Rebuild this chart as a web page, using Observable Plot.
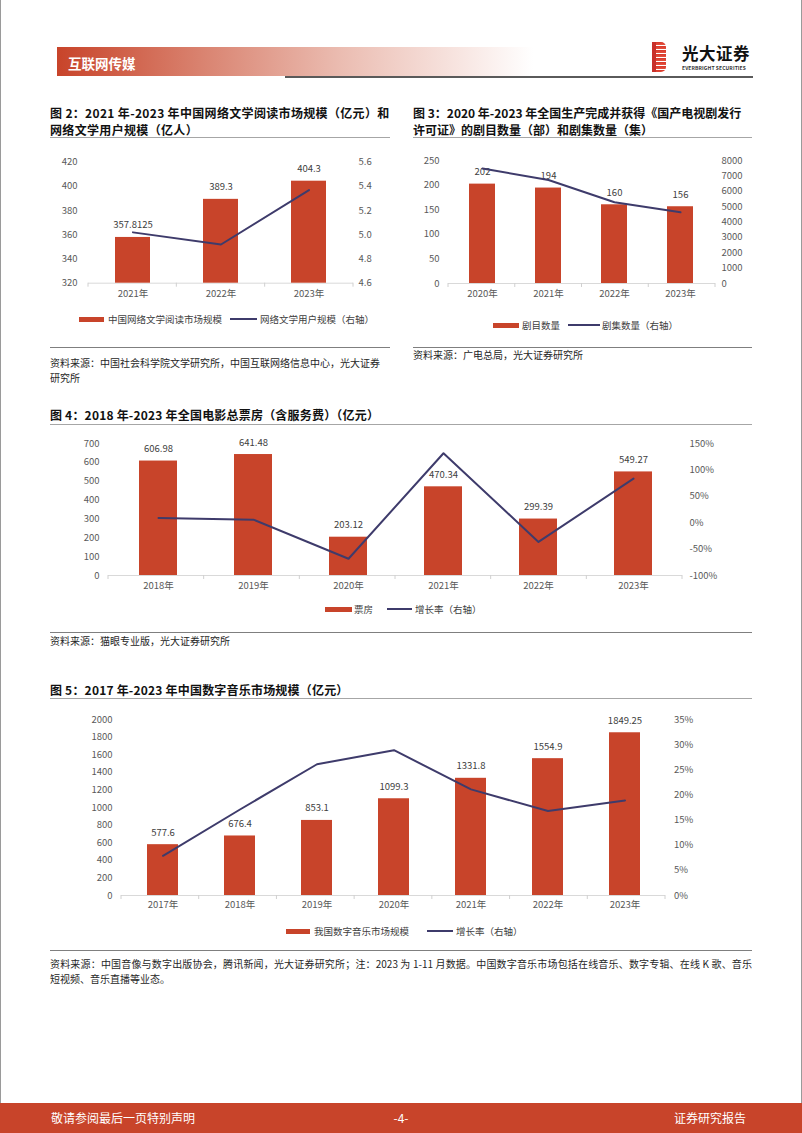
<!DOCTYPE html>
<html><head><meta charset="utf-8">
<script src="https://cdn.jsdelivr.net/npm/d3@7"></script>
<script src="https://cdn.jsdelivr.net/npm/@observablehq/plot@0.6"></script>
<style>
html,body{margin:0;padding:0;background:#fff;}
#page{position:relative;width:802px;height:1133px;overflow:hidden;font-family:"Noto Sans CJK SC","Noto Sans",sans-serif;background:#fff;}
.abs{position:absolute;}
.title{position:absolute;font-size:12px;font-weight:700;color:#111;line-height:17px;white-space:nowrap;}
.hr{position:absolute;height:0;border-top:1.5px solid #a6a6a6;}
.hr2{position:absolute;height:0;border-top:1px solid #7f7f7f;}
.src{position:absolute;font-size:10px;color:#262626;line-height:15px;white-space:nowrap;}
.leg{position:absolute;font-size:9.5px;color:#404040;white-space:nowrap;line-height:12px;height:12px;}
.chart{position:absolute;}
</style>
</head><body>
<div id="page"></div>
<script>
// ---------------- DATA ----------------
// 图2
const fig2Years = ["2021年", "2022年", "2023年"];
const fig2Market = [357.8125, 389.3, 404.3];          // 亿元
const fig2Users = [5.02, 4.92, 5.37];                  // 亿人 (右轴)
const fig2LeftTicks = [320, 340, 360, 380, 400, 420];
const fig2RightTicks = [4.6, 4.8, 5.0, 5.2, 5.4, 5.6];
const fig2Series = ["中国网络文学阅读市场规模", "网络文学用户规模（右轴）"];

// 图3
const fig3Years = ["2020年", "2021年", "2022年", "2023年"];
const fig3Dramas = [202, 194, 160, 156];               // 部
const fig3Episodes = [7476, 6736, 5283, 4632];          // 集 (右轴)
const fig3LeftTicks = [0, 50, 100, 150, 200, 250];
const fig3RightTicks = [0, 1000, 2000, 3000, 4000, 5000, 6000, 7000, 8000];
const fig3Series = ["剧目数量", "剧集数量（右轴）"];

// 图4
const fig4Years = ["2018年", "2019年", "2020年", "2021年", "2022年", "2023年"];
const fig4BoxOffice = [606.98, 641.48, 203.12, 470.34, 299.39, 549.27];
const fig4Growth = [9.1, 5.7, -68.3, 131.6, -36.4, 83.5]; // %
const fig4LeftTicks = [0, 100, 200, 300, 400, 500, 600, 700];
const fig4RightTicks = [-100, -50, 0, 50, 100, 150];
const fig4Series = ["票房", "增长率（右轴）"];

// 图5
const fig5Years = ["2017年", "2018年", "2019年", "2020年", "2021年", "2022年", "2023年"];
const fig5Market = [577.6, 676.4, 853.1, 1099.3, 1331.8, 1554.9, 1849.25];
const fig5Growth = [7.9, 17.1, 26.1, 28.9, 21.1, 16.8, 18.9]; // %
const fig5LeftTicks = [0, 200, 400, 600, 800, 1000, 1200, 1400, 1600, 1800, 2000];
const fig5RightTicks = [0, 5, 10, 15, 20, 25, 30, 35];
const fig5Series = ["我国数字音乐市场规模", "增长率（右轴）"];

// ---------------- STYLE ----------------
const RED = "#C8442A";
const NAVY = "#3E3B6B";
const FONT = "'Noto Sans CJK SC','Noto Sans',sans-serif";
const page = document.getElementById("page");

function el(tag, cls, css, html) {
  const e = document.createElement(tag);
  if (cls) e.className = cls;
  Object.assign(e.style, css || {});
  if (html != null) e.innerHTML = html;
  page.appendChild(e);
  return e;
}

// ---------------- HEADER / FOOTER ----------------
el("div", "abs", {left: "0px", top: "0px", width: "1px", height: "1103px", background: "#9a9a9a"});
el("div", "abs", {left: "801px", top: "0px", width: "1px", height: "1103px", background: "#9a9a9a"});
el("div", "abs", {left: "57px", top: "47px", width: "476px", height: "29px",
  background: "linear-gradient(to right, #C8442A 0%, #d9826f 30%, #ebbdb2 60%, #f8e6e2 85%, #ffffff 100%)"});
el("div", "abs", {left: "68px", top: "53px", fontSize: "13.5px", fontWeight: "700", color: "#fff", lineHeight: "20px"}, "互联网传媒");
el("div", "abs", {left: "285px", top: "76px", width: "468px", height: "2px", background: "#5a5a5a"});
// logo
el("div", "abs", {left: "652px", top: "42px", width: "14px", height: "30px",
  background: "repeating-linear-gradient(to bottom, #D7372A 0px, #E5533F 3px, #ffffff 3px, #ffffff 4px)",
  borderRadius: "0 5px 5px 0"});
el("div", "abs", {left: "652px", top: "42px", width: "4px", height: "30px", background: "#C8302A"});
el("div", "abs", {left: "682px", top: "43px", fontSize: "16.5px", fontWeight: "700", color: "#111", lineHeight: "20px", letterSpacing: "0.5px"}, "光大证券");
el("div", "abs", {left: "682px", top: "64px", fontSize: "5px", fontWeight: "700", color: "#333", lineHeight: "7px", letterSpacing: "0.1px"}, "EVERBRIGHT SECURITIES");

el("div", "abs", {left: "0px", top: "1103px", width: "802px", height: "30px", background: RED});
el("div", "abs", {left: "51px", top: "1109px", fontSize: "12px", color: "#fff", lineHeight: "18px"}, "敬请参阅最后一页特别声明");
el("div", "abs", {left: "381px", top: "1109px", width: "40px", textAlign: "center", fontSize: "12px", color: "#fff", lineHeight: "18px"}, "-4-");
el("div", "abs", {left: "674px", top: "1109px", fontSize: "12px", color: "#fff", lineHeight: "18px"}, "证券研究报告");

// ---------------- CHART HELPER ----------------
const hasAxisMarks = typeof Plot.axisY === "function";

function boundaryTicks(n) {
  return (index, scales, values, dim) => {
    const g = d3.create("svg:g");
    const W = dim.width - dim.marginLeft - dim.marginRight;
    const y0 = dim.height - dim.marginBottom;
    for (let i = 0; i <= n; i++) {
      const x = dim.marginLeft + i * W / n;
      g.append("line").attr("x1", x).attr("x2", x).attr("y1", y0).attr("y2", y0 + 4)
        .attr("stroke", "#d0d0d0").attr("stroke-width", 1);
    }
    return g.node();
  };
}

function dualChart(cfg) {
  const {cats, bars, line, yDomain, yTicks, y2Domain, y2Ticks, y2Format, yFormat,
         width, height, m, pad} = cfg;
  const k = (yDomain[1] - yDomain[0]) / (y2Domain[1] - y2Domain[0]);
  const toLeft = v => yDomain[0] + (v - y2Domain[0]) * k;
  const fromLeft = v => y2Domain[0] + (v - yDomain[0]) / k;
  const data = cats.map((c, i) => ({cat: c, bar: bars[i], lineY: toLeft(line[i])}));
  const marks = [
    Plot.ruleY([yDomain[0]], {stroke: "#d9d9d9", strokeWidth: 1}),
    boundaryTicks(cats.length),
    Plot.barY(data, {x: "cat", y1: () => yDomain[0], y2: "bar", fill: RED}),
    Plot.text(data, {x: "cat", y: "bar", text: d => String(d.bar), dy: -12, fill: "#404040"}),
    Plot.line(data, {x: "cat", y: "lineY", stroke: NAVY, strokeWidth: 2})
  ];
  if (hasAxisMarks) {
    marks.push(
      Plot.axisY(yTicks, {anchor: "left", tickSize: 0, tickPadding: pad.l, label: null, tickFormat: yFormat || (d => String(d))}),
      Plot.axisY(y2Ticks.map(toLeft), {anchor: "right", tickSize: 0, tickPadding: pad.r, label: null,
        tickFormat: d => y2Format(fromLeft(d))}),
      Plot.axisX(cats, {anchor: "bottom", tickSize: 0, tickPadding: pad.x, label: null})
    );
  } else {
    marks.push(
      Plot.text(yTicks, {y: d => d, frameAnchor: "left", textAnchor: "end", dx: -pad.l, text: d => String(d), fill: "#595959"}),
      Plot.text(y2Ticks.map(toLeft), {y: d => d, frameAnchor: "right", textAnchor: "start", dx: pad.r,
        text: d => y2Format(fromLeft(d)), fill: "#595959"}),
      Plot.text(cats, {x: d => d, frameAnchor: "bottom", lineAnchor: "top", dy: pad.x, fill: "#595959"})
    );
  }
  return Plot.plot({
    width, height,
    marginLeft: m[3], marginRight: m[1], marginTop: m[0], marginBottom: m[2],
    x: {domain: cats, paddingInner: 0.6, paddingOuter: 0.3, ...(hasAxisMarks ? {} : {axis: null})},
    y: {domain: yDomain, ...(hasAxisMarks ? {} : {axis: null})},
    style: {fontFamily: FONT, fontSize: "9.5px", color: "#595959", background: "transparent", overflow: "visible"},
    marks
  });
}

function place(node, left, top) {
  const wrap = el("div", "chart", {left: left + "px", top: top + "px"});
  wrap.appendChild(node);
}

function legend(cy, items) {
  for (const it of items) {
    el("div", "abs", {left: it.x0 + "px", top: (cy - (it.type === "bar" ? 2.5 : 1)) + "px",
      width: (it.x1 - it.x0) + "px", height: (it.type === "bar" ? 5 : 2) + "px",
      background: it.type === "bar" ? RED : NAVY});
    el("div", "leg", {left: it.tx + "px", top: (cy - 6.5) + "px"}, it.label);
  }
}

// ---------------- 图2 ----------------
el("div", "title", {left: "50px", top: "103.5px", letterSpacing: "0.33px"}, "图 2：2021 年-2023 年中国网络文学阅读市场规模（亿元）和");
el("div", "title", {left: "50px", top: "120.5px", letterSpacing: "0.33px"}, "网络文学用户规模（亿人）");
el("div", "hr", {left: "50px", top: "137px", width: "340px"});
place(dualChart({
  cats: fig2Years, bars: fig2Market, line: fig2Users,
  yDomain: [320, 420], yTicks: fig2LeftTicks,
  y2Domain: [4.6, 5.6], y2Ticks: fig2RightTicks, y2Format: v => v.toFixed(1),
  width: 350, height: 165, m: [16.7, 37, 27.3, 48], pad: {l: 11, r: 5, x: 7.5}
}), 40, 145);
legend(319, [
  {type: "bar", x0: 79, x1: 104, tx: 108, label: fig2Series[0]},
  {type: "line", x0: 230, x1: 257, tx: 260, label: fig2Series[1]}
]);
el("div", "hr2", {left: "50px", top: "347px", width: "340px"});
el("div", "src", {left: "50px", top: "354.5px"}, "资料来源：中国社会科学院文学研究所，中国互联网络信息中心，光大证券");
el("div", "src", {left: "50px", top: "369.5px"}, "研究所");

// ---------------- 图3 ----------------
el("div", "title", {left: "413px", top: "103.5px"}, "图 3：2020 年-2023 年全国生产完成并获得《国产电视剧发行");
el("div", "title", {left: "413px", top: "120.5px"}, "许可证》的剧目数量（部）和剧集数量（集）");
el("div", "hr", {left: "413px", top: "137px", width: "339px"});
place(dualChart({
  cats: fig3Years, bars: fig3Dramas, line: fig3Episodes,
  yDomain: [0, 250], yTicks: fig3LeftTicks,
  y2Domain: [0, 8000], y2Ticks: fig3RightTicks, y2Format: v => String(Math.round(v)),
  width: 360, height: 165, m: [15, 45, 27, 48], pad: {l: 9, r: 6, x: 7}
}), 400, 145);
legend(325, [
  {type: "bar", x0: 493, x1: 519, tx: 522, label: fig3Series[0]},
  {type: "line", x0: 568, x1: 600, tx: 602, label: fig3Series[1]}
]);
el("div", "hr2", {left: "413px", top: "347px", width: "339px"});
el("div", "src", {left: "413px", top: "346.5px"}, "资料来源：广电总局，光大证券研究所");

// ---------------- 图4 ----------------
el("div", "title", {left: "50px", top: "406px", fontSize: "12px", letterSpacing: "0.2px"}, "图 4：2018 年-2023 年全国电影总票房（含服务费）（亿元）");
el("div", "hr", {left: "50px", top: "424px", width: "702px"});
place(dualChart({
  cats: fig4Years, bars: fig4BoxOffice, line: fig4Growth,
  yDomain: [0, 700], yTicks: fig4LeftTicks,
  y2Domain: [-100, 150], y2Ticks: fig4RightTicks, y2Format: v => Math.round(v) + "%",
  width: 720, height: 170, m: [13, 78, 25, 68], pad: {l: 9, r: 7, x: 7}
}), 40, 430);
legend(609, [
  {type: "bar", x0: 325, x1: 352, tx: 354, label: fig4Series[0]},
  {type: "line", x0: 387, x1: 412, tx: 415, label: fig4Series[1]}
]);
el("div", "hr2", {left: "50px", top: "632px", width: "702px"});
el("div", "src", {left: "50px", top: "633px"}, "资料来源：猫眼专业版，光大证券研究所");

// ---------------- 图5 ----------------
el("div", "title", {left: "50px", top: "680.5px", fontSize: "12px", letterSpacing: "0.2px"}, "图 5：2017 年-2023 年中国数字音乐市场规模（亿元）");
el("div", "hr", {left: "50px", top: "698px", width: "702px"});
place(dualChart({
  cats: fig5Years, bars: fig5Market, line: fig5Growth,
  yDomain: [0, 2000], yTicks: fig5LeftTicks,
  y2Domain: [0, 35], y2Ticks: fig5RightTicks, y2Format: v => Math.round(v) + "%",
  width: 720, height: 215, m: [14, 95, 25, 81], pad: {l: 9, r: 8.5, x: 6}
}), 40, 705);
legend(931, [
  {type: "bar", x0: 286, x1: 310, tx: 314, label: fig5Series[0]},
  {type: "line", x0: 427, x1: 453, tx: 456, label: fig5Series[1]}
]);
el("div", "hr2", {left: "50px", top: "950px", width: "702px"});
el("div", "src", {left: "50px", top: "955.5px", width: "702px", textAlign: "justify", textAlignLast: "justify"},
  "资料来源：中国音像与数字出版协会，腾讯新闻，光大证券研究所；注：2023 为 1-11 月数据。中国数字音乐市场包括在线音乐、数字专辑、在线 K 歌、音乐");
el("div", "src", {left: "50px", top: "970.5px"}, "短视频、音乐直播等业态。");
</script>
</body></html>
